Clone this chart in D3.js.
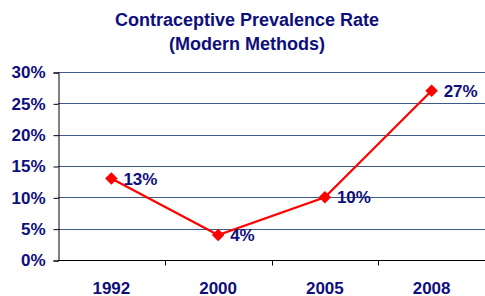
<!DOCTYPE html>
<html>
<head>
<meta charset="utf-8">
<script src="https://cdn.jsdelivr.net/npm/d3@7"></script>
<style>
  body { margin: 0; background: #fff; }
  text { font-family: Arial, "Liberation Sans", sans-serif; font-weight: bold; fill: #0e0e7c; }
</style>
</head>
<body>
<div id="chart"></div>
<script>
const years = ["1992", "2000", "2005", "2008"];
const rates = [13, 4, 10, 27];
const yTicks = [0, 5, 10, 15, 20, 25, 30];
const titleLines = ["Contraceptive Prevalence Rate", "(Modern Methods)"];

const width = 485, height = 296;
const margin = {top: 72, right: 0, bottom: 36, left: 58};

const svg = d3.select("#chart").append("svg")
    .attr("width", width)
    .attr("height", height);

// title
svg.append("g").selectAll("text")
    .data(titleLines)
    .join("text")
    .attr("x", 247)
    .attr("y", (d, i) => 26 + i * 24)
    .attr("text-anchor", "middle")
    .style("font-size", "18px")
    .text(d => d);

const x = d3.scaleBand()
    .domain(years)
    .range([margin.left, width - margin.right]);

const y = d3.scaleLinear()
    .domain([0, 30])
    .range([height - margin.bottom, margin.top]);

// gridlines
svg.append("g").selectAll("line")
    .data(yTicks.filter(d => d > 0))
    .join("line")
    .attr("x1", margin.left)
    .attr("x2", width - margin.right)
    .attr("y1", d => Math.round(y(d)) + 0.5)
    .attr("y2", d => Math.round(y(d)) + 0.5)
    .attr("stroke", "#3b5a88")
    .attr("stroke-width", 1);

// y axis
const yAxis = svg.append("g")
    .attr("transform", `translate(${margin.left + 0.5},0.5)`)
    .call(d3.axisLeft(y).tickValues(yTicks).tickSize(5).tickPadding(8)
        .tickFormat(d => d + "%"));
yAxis.select(".domain").attr("stroke", "#000");
yAxis.selectAll(".tick line").attr("stroke", "#000");
yAxis.selectAll(".tick text").style("font-size", "17px").attr("fill", "#0e0e7c");

// x axis with ticks at band boundaries
const xAxis = svg.append("g")
    .attr("transform", `translate(0,${Math.round(y(0)) + 0.5})`);
xAxis.append("line")
    .attr("x1", margin.left)
    .attr("x2", width)
    .attr("stroke", "#000");
xAxis.selectAll("line.tk")
    .data(years.slice(1))
    .join("line")
    .attr("class", "tk")
    .attr("x1", d => Math.round(x(d)) + 0.5)
    .attr("x2", d => Math.round(x(d)) + 0.5)
    .attr("y1", 0)
    .attr("y2", 5)
    .attr("stroke", "#000");
xAxis.selectAll("text")
    .data(years)
    .join("text")
    .attr("x", d => x(d) + x.bandwidth() / 2)
    .attr("y", 33)
    .attr("text-anchor", "middle")
    .style("font-size", "17px")
    .text(d => d);

const pts = years.map((d, i) => ({year: d, v: rates[i]}));

// line
svg.append("path")
    .datum(pts)
    .attr("fill", "none")
    .attr("stroke", "#ff0000")
    .attr("stroke-width", 2.2)
    .attr("d", d3.line()
        .x(d => x(d.year) + x.bandwidth() / 2)
        .y(d => y(d.v)));

// markers
svg.append("g").selectAll("path")
    .data(pts)
    .join("path")
    .attr("transform", d => `translate(${x(d.year) + x.bandwidth() / 2},${y(d.v)})`)
    .attr("d", d3.symbol(d3.symbolDiamond2, 100))
    .attr("fill", "#ff0000");

// labels
svg.append("g").selectAll("text")
    .data(pts)
    .join("text")
    .attr("x", d => x(d.year) + x.bandwidth() / 2 + 12)
    .attr("y", d => y(d.v) + 6)
    .style("font-size", "17px")
    .text(d => d.v + "%");
</script>
</body>
</html>
